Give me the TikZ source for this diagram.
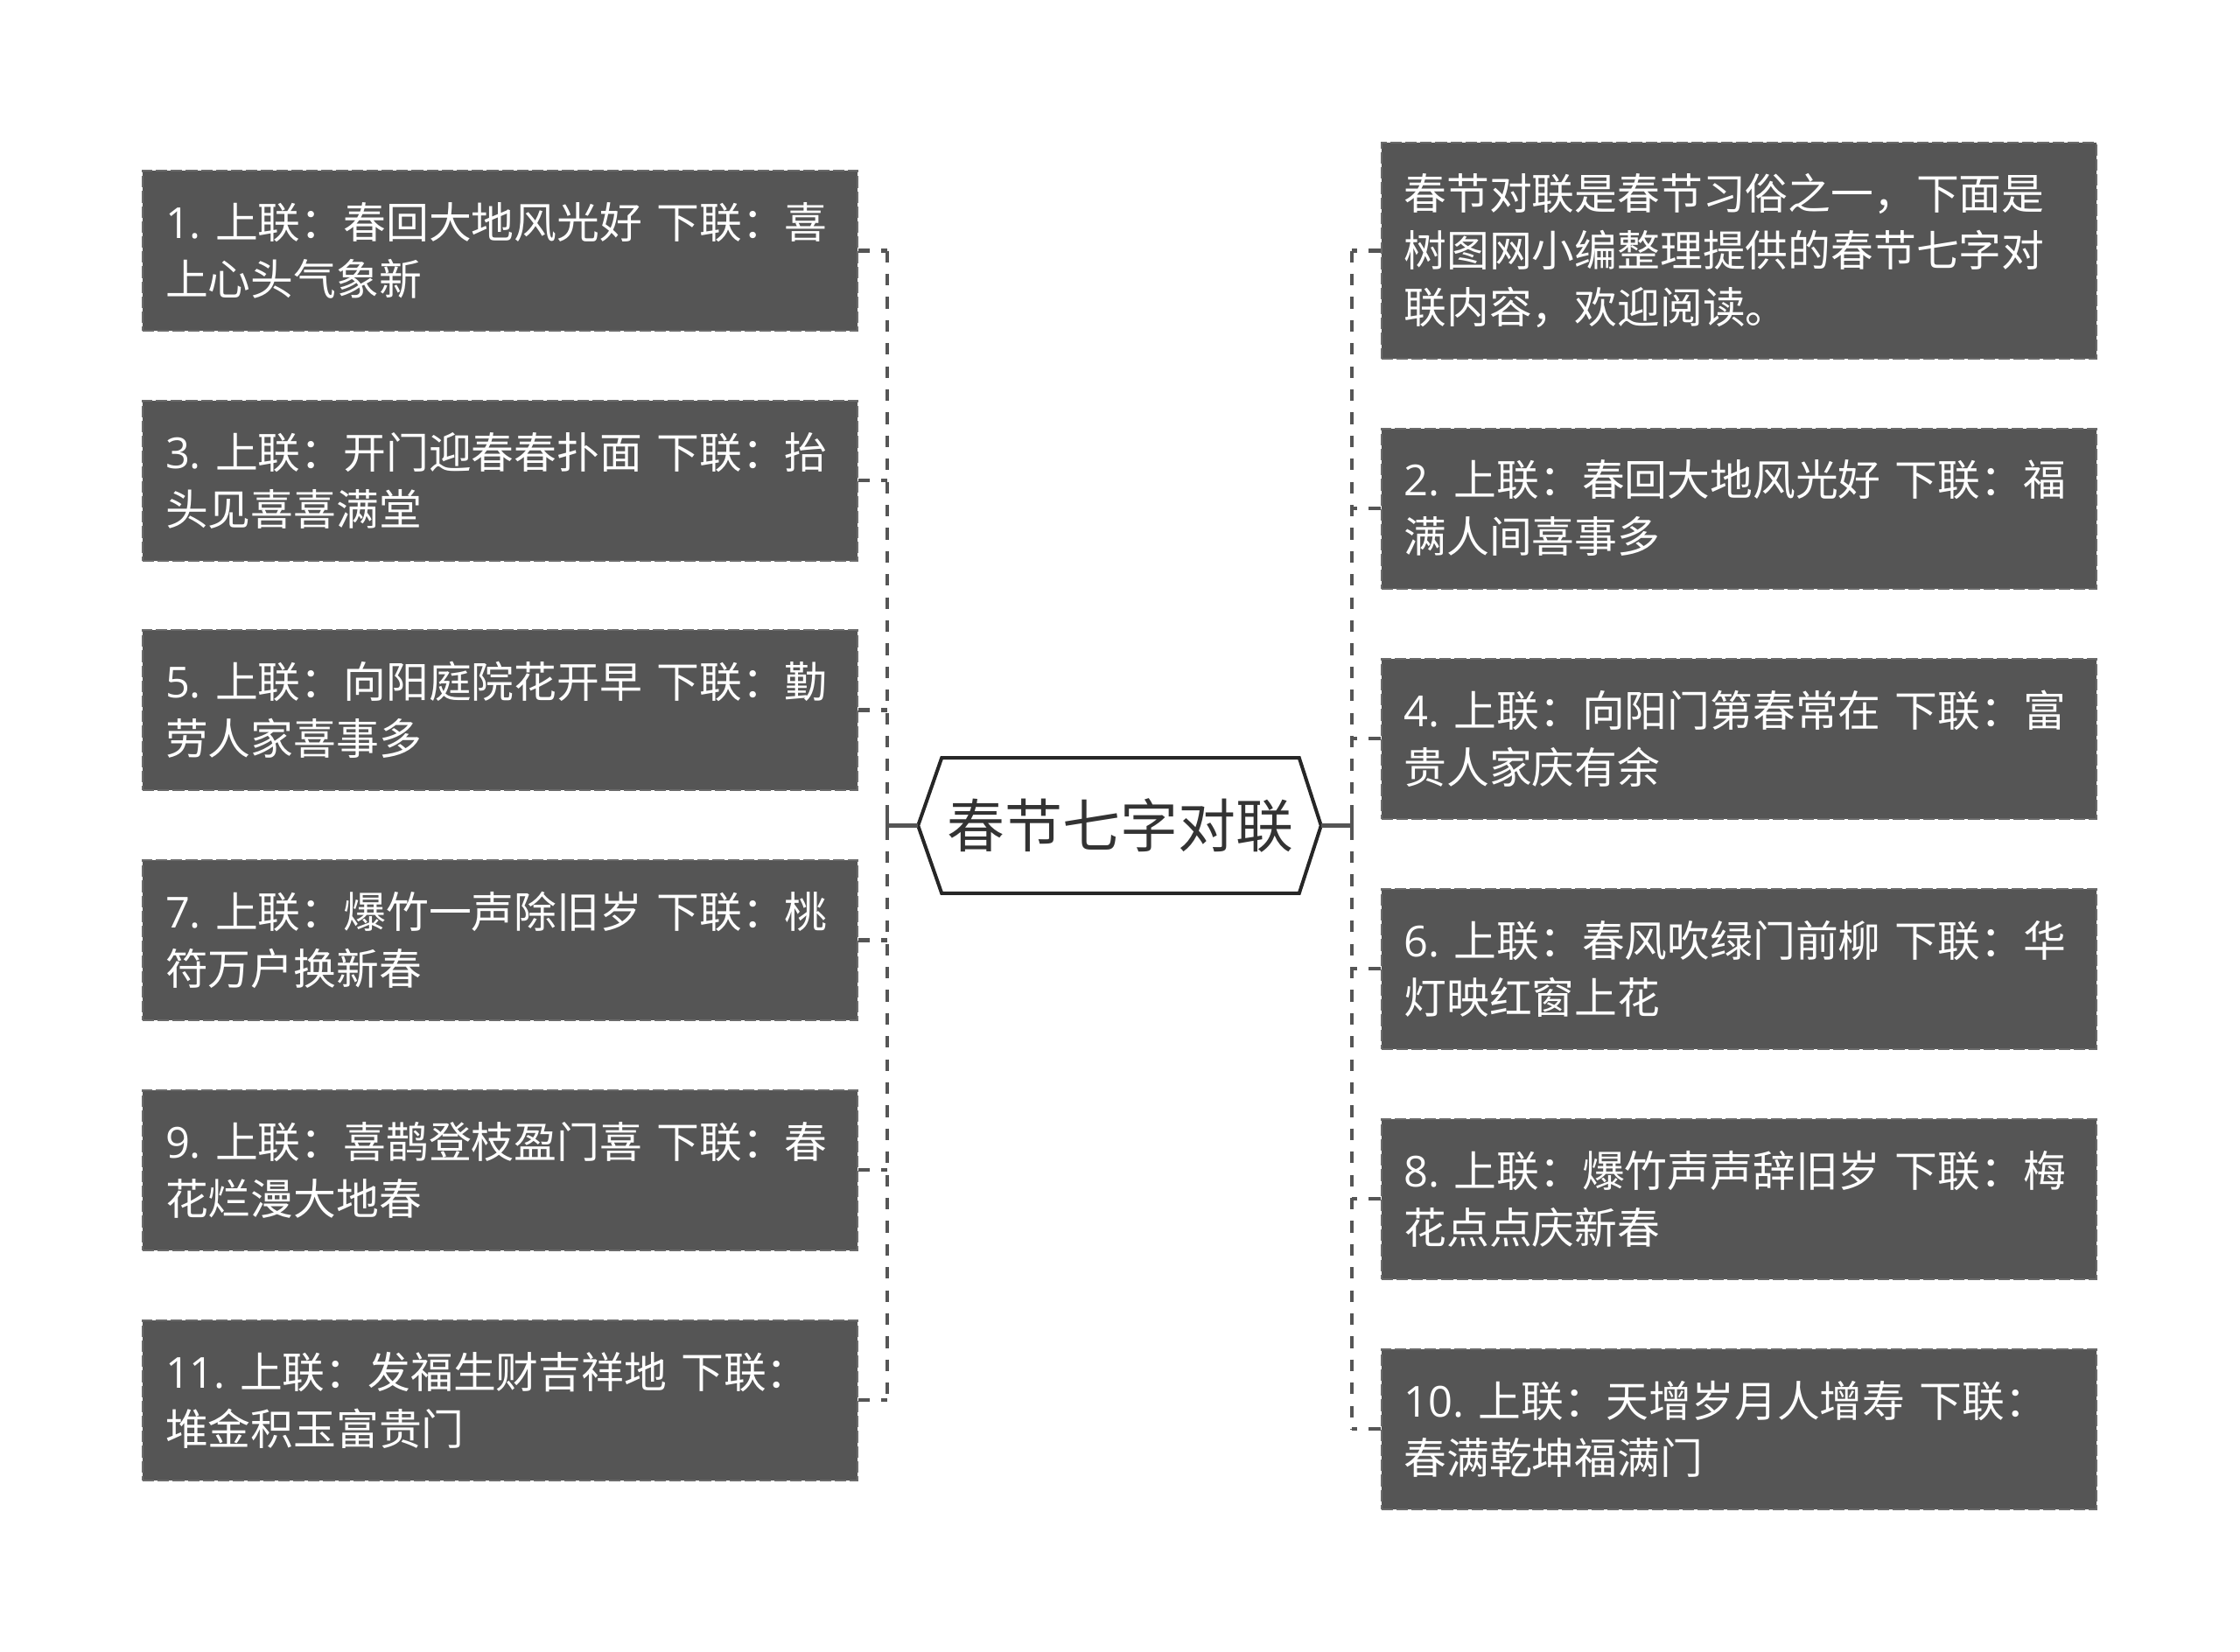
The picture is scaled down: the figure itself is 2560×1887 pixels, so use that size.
\documentclass[tikz,border=0pt]{standalone}
\usepackage{fontspec}
\setmainfont{Noto Sans CJK SC}
\newfontfamily\latinfont{Open Sans}
\usepackage{tikz}
\usetikzlibrary{calc}

\definecolor{boxgray}{HTML}{555555}
\definecolor{edgegray}{HTML}{6A6A6A}
\definecolor{linegray}{HTML}{555555}
\definecolor{rootink}{HTML}{333333}
\newcommand\lt[1]{{\latinfont #1}}
\frenchspacing

\begin{document}
\begin{tikzpicture}[x=0.25pt, y=-0.25pt,
  leaf/.style={fill=boxgray, draw=edgegray, dash pattern=on 3.3pt off 1pt, line width=0.5pt,
    text=white, font=\fontsize{12.2pt}{16.25pt}\selectfont\frenchspacing, text width=191.25pt,
    align=left, inner xsep=6.5pt, minimum height=45.75pt},
  link/.style={draw=linegray, line width=1.2pt, dash pattern=on 3.3pt off 3.3pt},
  stem/.style={draw=linegray, line width=1.2pt}]
\useasboundingbox[fill=white] (0,0) rectangle (2560,1887);

% Root
\node[text=rootink, font=\fontsize{16.5pt}{20pt}\selectfont, inner sep=0pt,
  minimum width=101.75pt, minimum height=38.25pt] (root) at (1280.5,943.5) {春节七字对联};
\coordinate (rootL) at ($(root.west)+(-27,0)$);
\coordinate (rootR) at ($(root.east)+(25,0)$);
\draw[line width=1pt, draw=black!85] (rootL) -- (root.north west) -- (root.north east)
  -- (rootR) -- (root.south east) -- (root.south west) -- cycle;

% Left column
\node[leaf] (l1) at (571.5,286.5) {\lt{1. }上联：春回大地风光好\lt{ }下联：喜\\上心头气象新};
\node[leaf] (l3) at (571.5,549) {\lt{3. }上联：开门迎春春扑面\lt{ }下联：抬\\头见喜喜满堂};
\node[leaf] (l5) at (571.5,811.5) {\lt{5. }上联：向阳庭院花开早\lt{ }下联：勤\\劳人家喜事多};
\node[leaf] (l7) at (571.5,1074.5) {\lt{7. }上联：爆竹一声除旧岁\lt{ }下联：桃\\符万户换新春};
\node[leaf] (l9) at (571.5,1337) {\lt{9. }上联：喜鹊登枝盈门喜\lt{ }下联：春\\花烂漫大地春};
\node[leaf] (l11) at (571.5,1600) {\lt{11. }上联：发福生财吉祥地\lt{ }下联：\\堆金积玉富贵门};

% Right column
\node[leaf, minimum height=61.75pt] (r0) at (1987,286.5) {春节对联是春节习俗之一，下面是\\树图网小编整理提供的春节七字对\\联内容，欢迎阅读。};
\node[leaf] (r2) at (1987,581) {\lt{2. }上联：春回大地风光好\lt{ }下联：福\\满人间喜事多};
\node[leaf] (r4) at (1987,844) {\lt{4. }上联：向阳门第春常在\lt{ }下联：富\\贵人家庆有余};
\node[leaf] (r6) at (1987,1107) {\lt{6. }上联：春风吹绿门前柳\lt{ }下联：华\\灯映红窗上花};
\node[leaf] (r8) at (1987,1370) {\lt{8. }上联：爆竹声声辞旧岁\lt{ }下联：梅\\花点点庆新春};
\node[leaf] (r10) at (1987,1633) {\lt{10. }上联：天增岁月人增寿\lt{ }下联：\\春满乾坤福满门};

% Connectors
\coordinate (lbus) at (1014,943.5);
\coordinate (rbus) at (1545,943.5);
\foreach \n in {l1,l3,l5,l7,l9,l11}
  \draw[link] (\n.east) -- (\n.east -| lbus);
\draw[link] (l1.east -| lbus) -- (l11.east -| lbus);
\foreach \n in {r0,r2,r4,r6,r8,r10}
  \draw[link] (\n.west) -- (\n.west -| rbus);
\draw[link] (r0.west -| rbus) -- (r10.west -| rbus);

\draw[stem] (rootL) -- (lbus);
\draw[stem] ($(lbus)+(0,-14)$) -- ($(lbus)+(0,14)$);
\draw[stem] (rootR) -- (rbus);
\draw[stem] ($(rbus)+(0,-14)$) -- ($(rbus)+(0,14)$);
\end{tikzpicture}
\end{document}
